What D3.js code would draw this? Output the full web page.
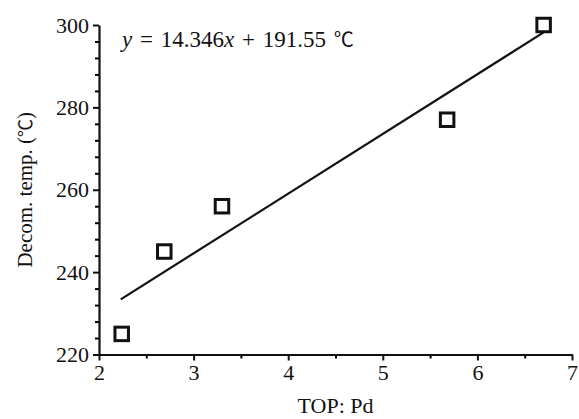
<!DOCTYPE html>
<html>
<head>
<meta charset="utf-8">
<script src="https://cdn.jsdelivr.net/npm/d3@7"></script>
<style>
  body { margin: 0; background: #fff; }
  text { font-family: "Liberation Serif", "Times New Roman", serif; fill: #111; }
  .deg { font-family: "Noto Sans CJK SC", serif; }
</style>
</head>
<body>
<div id="chart-container"></div>
<script>
// measured points (TOP: Pd vs decomposition temperature)
const topPd = [2.24, 2.69, 3.3, 5.68, 6.7];
const decomTemp = [225, 245, 256, 277, 300];
// fitted line as drawn in the figure (end points)
const fitX = [2.23, 6.7];
const fitY = [233.4, 298.2];
const xTicks = [2, 3, 4, 5, 6, 7];
const yTicks = [220, 240, 260, 280, 300];

const width = 579, height = 419;
const marginLeft = 99, marginRight = 7, marginTop = 25, marginBottom = 64.5;

const svg = d3.select("#chart-container")
  .append("svg")
  .attr("width", width)
  .attr("height", height);

const x = d3.scaleLinear().domain([2, 7]).range([marginLeft, width - marginRight]);
const y = d3.scaleLinear().domain([220, 300]).range([height - marginBottom, marginTop]);

// minor ticks first
svg.append("g")
  .attr("transform", `translate(0, ${height - marginBottom})`)
  .call(d3.axisBottom(x).tickValues(d3.range(2.5, 7, 1)).tickSize(4).tickFormat(""))
  .call(g => g.select(".domain").remove())
  .selectAll("line").attr("stroke-width", 2);

svg.append("g")
  .attr("transform", `translate(${marginLeft}, 0)`)
  .call(d3.axisLeft(y).tickValues(d3.range(224, 300, 4).filter(v => v % 20 !== 0)).tickSize(4).tickFormat(""))
  .call(g => g.select(".domain").remove())
  .selectAll("line").attr("stroke-width", 2);

// major axes
const xAxis = svg.append("g")
  .attr("transform", `translate(0, ${height - marginBottom})`)
  .call(d3.axisBottom(x).tickValues(xTicks).tickFormat(d3.format("d"))
    .tickSize(6).tickSizeOuter(0).tickPadding(4));

const yAxis = svg.append("g")
  .attr("transform", `translate(${marginLeft}, 0)`)
  .call(d3.axisLeft(y).tickValues(yTicks).tickFormat(d3.format("d"))
    .tickSize(6).tickSizeOuter(0).tickPadding(4));

[xAxis, yAxis].forEach(g => {
  g.select(".domain").attr("stroke", "#111").attr("stroke-width", 2.2);
  g.selectAll(".tick line").attr("stroke", "#111").attr("stroke-width", 2);
  g.selectAll("text")
    .style("font-family", "'Liberation Serif', serif")
    .style("font-size", "22px")
    .attr("fill", "#111");
});

// fit line
svg.append("line")
  .attr("x1", x(fitX[0])).attr("y1", y(fitY[0]))
  .attr("x2", x(fitX[1])).attr("y2", y(fitY[1]))
  .attr("stroke", "#111")
  .attr("stroke-width", 2.2);

// square markers
const s = 13.5;
svg.selectAll("rect.pt")
  .data(topPd.map((d, i) => ({ x: d, y: decomTemp[i] })))
  .enter()
  .append("rect")
  .attr("class", "pt")
  .attr("x", d => x(d.x) - s / 2)
  .attr("y", d => y(d.y) - s / 2)
  .attr("width", s)
  .attr("height", s)
  .attr("fill", "#fff")
  .attr("stroke", "#111")
  .attr("stroke-width", 3);

// equation
const eq = svg.append("text")
  .attr("x", 122)
  .attr("y", 47)
  .style("font-size", "23px")
  .style("word-spacing", "2px");
eq.append("tspan").style("font-style", "italic").text("y");
eq.append("tspan").text(" = 14.346");
eq.append("tspan").style("font-style", "italic").text("x");
eq.append("tspan").text(" + 191.55 ");
eq.append("tspan").attr("class", "deg").style("font-size", "20px").text("℃");

// axis titles
svg.append("text")
  .attr("x", (marginLeft + width - marginRight) / 2)
  .attr("y", 413)
  .attr("text-anchor", "middle")
  .style("font-size", "22px")
  .text("TOP: Pd");

const yt = svg.append("text")
  .attr("transform", `translate(32, ${(marginTop + height - marginBottom) / 2}) rotate(-90)`)
  .attr("text-anchor", "middle")
  .style("font-size", "21px");
yt.append("tspan").text("Decom. temp. (");
yt.append("tspan").attr("class", "deg").style("font-size", "18px").text("℃");
yt.append("tspan").text(")");
</script>
</body>
</html>
